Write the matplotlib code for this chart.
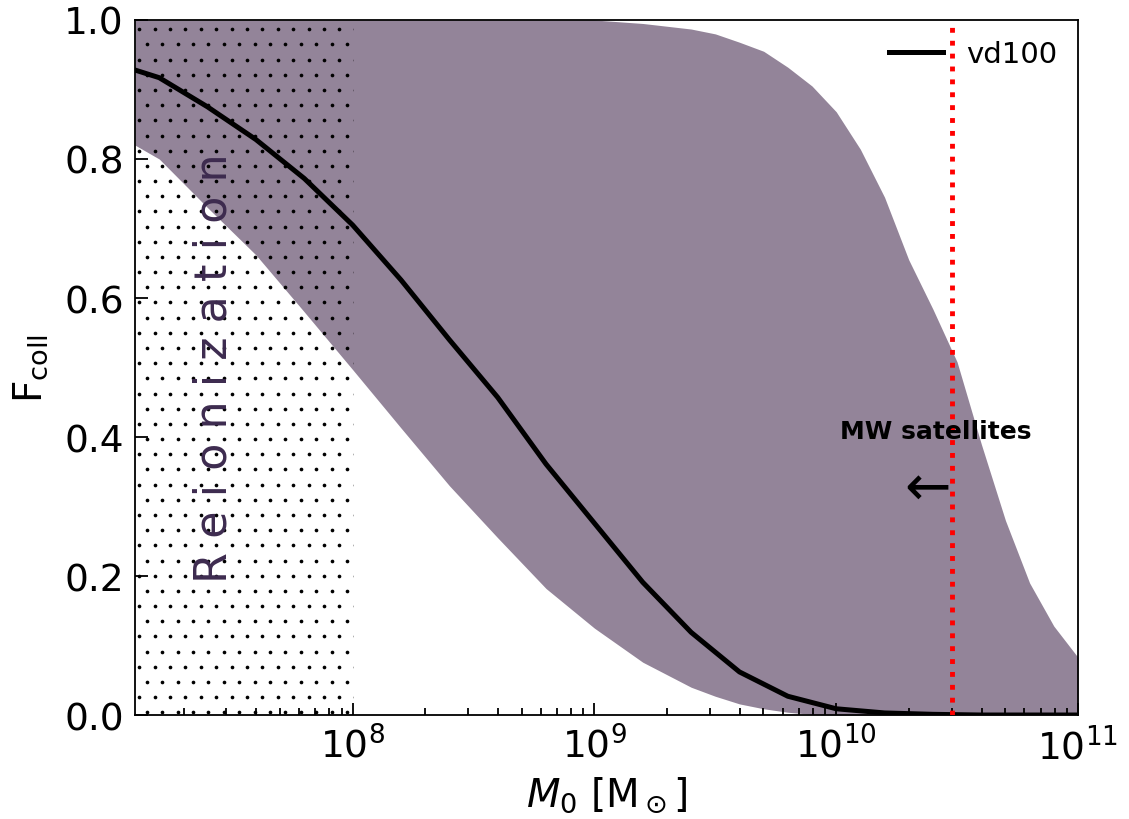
import numpy as np
import matplotlib
matplotlib.use("Agg")
import matplotlib.pyplot as plt

# vd100 collapsed fraction vs present-day halo mass (log10 M0 grid, 0.2 dex)
line_logm = [7.1, 7.2, 7.4, 7.6, 7.8, 8.0, 8.2, 8.4, 8.6, 8.8, 9.0, 9.2,
             9.4, 9.6, 9.8, 10.0, 10.2, 10.4, 10.6, 10.8, 11.0]
line_fcoll = [0.928, 0.917, 0.875, 0.828, 0.772, 0.705, 0.626, 0.540, 0.457,
              0.361, 0.276, 0.191, 0.119, 0.062, 0.027, 0.009, 0.003, 0.001,
              0.0, 0.0, 0.0]

# scatter band (lower / upper envelope)
band_logm = [7.1, 7.2, 7.4, 7.6, 7.8, 8.0, 8.2, 8.4, 8.6, 8.8, 9.0, 9.2,
             9.4, 9.5, 9.6, 9.7, 9.8, 9.9, 10.0, 10.1, 10.2, 10.3, 10.4,
             10.5, 10.6, 10.7, 10.8, 10.9, 11.0]
band_low = [0.820, 0.800, 0.730, 0.662, 0.580, 0.497, 0.413, 0.330, 0.255,
            0.182, 0.125, 0.076, 0.040, 0.027, 0.016, 0.009, 0.004, 0.001,
            0.0, 0.0, 0.0, 0.0, 0.0, 0.0, 0.0, 0.0, 0.0, 0.0, 0.0]
band_high = [1.0, 1.0, 1.0, 1.0, 1.0, 1.0, 1.0, 1.0, 1.0, 1.0, 1.0, 0.995,
             0.987, 0.980, 0.968, 0.955, 0.932, 0.905, 0.868, 0.814, 0.745,
             0.655, 0.584, 0.508, 0.390, 0.280, 0.190, 0.128, 0.083]

m_reion = 1e8      # reionization mass scale
m_mw = 3e10        # MW satellites upper mass

line_m = 10 ** np.array(line_logm)
band_m = 10 ** np.array(band_logm)

fig = plt.figure(figsize=(11.29, 8.2), dpi=100)
ax = fig.add_axes([0.1196, 0.1268, 0.8352, 0.8476])

ax.fill_between(band_m, band_low, band_high, color="#938499", lw=0, zorder=1)

# dotted texture for the reionization-suppressed range, clipped to the span
span = ax.axvspan(band_m[0], m_reion, facecolor="none", edgecolor="none",
                  lw=0, zorder=2)
step_x, step_y = 15.4 / 943, 15.2 / 696      # dot pitch in axes fraction
rows = np.arange(0.0039, 1.0, step_y)
dots_x, dots_y = [], []
for i, yy in enumerate(rows):
    x0 = 0.0125 if i % 2 == 0 else 0.0125 - step_x / 2
    xs = np.arange(x0, 0.25, step_x)
    dots_x.extend(xs)
    dots_y.extend([yy] * len(xs))
dots = ax.scatter(dots_x, dots_y, s=7, c="k", lw=0, transform=ax.transAxes,
                  zorder=2)
dots.set_clip_path(span)

ax.plot(line_m, line_fcoll, color="k", lw=3.6, label="vd100", zorder=4)
ax.axvline(m_mw, color="red", ls=":", lw=3.5, zorder=5)

ax.text(2.68e7, 0.50, "R e i o n i z a t i o n", rotation=90, fontsize=32,
        color="#3d2b4f", ha="center", va="center", zorder=3)
ax.text(2.57e10, 0.408, "MW satellites", fontsize=18, fontweight="bold",
        ha="center", va="center", zorder=6)
ax.text(2.38e10, 0.325, "←", fontsize=40, ha="center", va="center", zorder=6)

ax.set_xscale("log")
ax.set_xlim(band_m[0], 1e11)
ax.set_ylim(0, 1)
ax.set_yticks([0.0, 0.2, 0.4, 0.6, 0.8, 1.0])
ax.yaxis.set_major_formatter(matplotlib.ticker.FormatStrFormatter("%.1f"))
ax.tick_params(which="both", direction="in", labelsize=27, width=1.3)
ax.tick_params(which="major", length=9, pad=8)
ax.tick_params(which="minor", length=5)
ax.tick_params(axis="y", which="minor", left=False)
for s in ax.spines.values():
    s.set_linewidth(1.3)

ax.set_xlabel(r"$M_0$ [M$_\odot$]", fontsize=28, labelpad=6)
ax.set_ylabel(r"F$_{\rm coll}$", fontsize=28, labelpad=10)

ax.legend(loc="upper right", frameon=False, fontsize=21, handlelength=1.85,
          borderaxespad=0.3)

fig.savefig("out.png", dpi=100)
